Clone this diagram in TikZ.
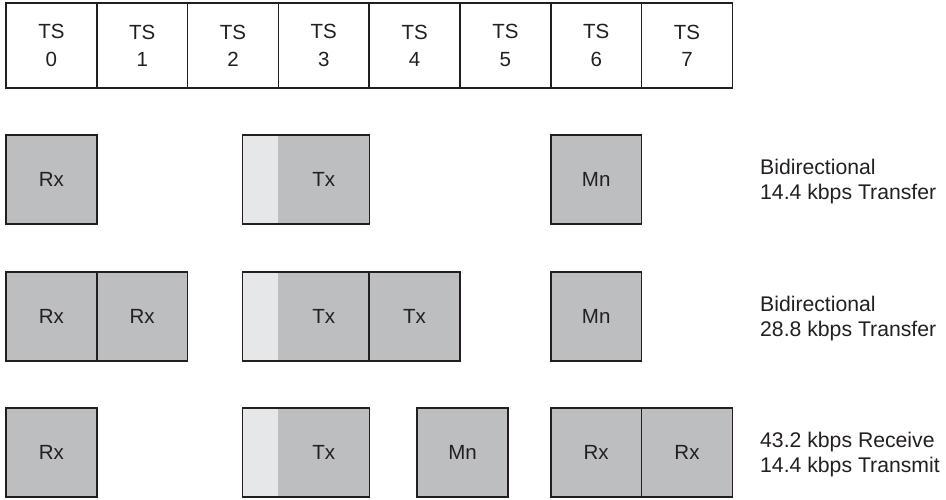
\documentclass[tikz,border=0pt]{standalone}
\usepackage{fontspec}
\setmainfont{Liberation Sans}
\definecolor{ink}{HTML}{231F20}
\definecolor{boxgray}{HTML}{BCBEC0}
\definecolor{padgray}{HTML}{E6E7E8}
\begin{document}
\begin{tikzpicture}[x=1pt,y=-1pt,
  tscell/.style={draw=ink, line width=1.6pt, fill=white, minimum width=90.8pt, minimum height=85pt, inner sep=0pt, align=center, text=ink, font=\fontsize{20.5}{27.2}\selectfont},
  slot/.style={draw=ink, line width=1.6pt, fill=boxgray, minimum width=90.8pt, minimum height=89pt, inner sep=0pt, text=ink, font=\fontsize{20.5}{22}\selectfont},
  txpart/.style={fill=boxgray, minimum width=90.8pt, minimum height=89pt, inner sep=0pt, text=ink, font=\fontsize{20.5}{22}\selectfont},
  pad/.style={fill=padgray, minimum width=36.5pt, minimum height=89pt, inner sep=0pt},
  frame/.style={draw=ink, line width=1.6pt},
  rate/.style={anchor=west, align=left, inner sep=0pt, text=ink, font=\fontsize{21.2}{25.8}\selectfont}]
\useasboundingbox (0,0) rectangle (946,499);
% time slots
\foreach \i in {0,...,7}
  \node[tscell] (ts\i) at ({51.4+90.8*\i},45.5) {TS\\\i};
% row 1
\node[slot] (r1rx) at (51.4,179.5) {Rx};
\node[pad] (r1pad) at (260.75,179.5) {};
\node[txpart] (r1tx) at (323.8,179.5) {Tx};
\draw[frame] (r1pad.north west) rectangle (r1tx.south east);
\node[slot] (r1mn) at (596.2,179.5) {Mn};
\node[rate] (r1lab) at (760,181.5) {Bidirectional\\14.4 kbps Transfer};
% row 2
\node[slot] (r2rxa) at (51.4,316.5) {Rx};
\node[slot] (r2rxb) at (142.2,316.5) {Rx};
\node[pad] (r2pad) at (260.75,316.5) {};
\node[txpart] (r2txa) at (323.8,316.5) {Tx};
\draw[frame] (r2pad.north west) rectangle (r2txa.south east);
\node[slot] (r2txb) at (414.6,316.5) {Tx};
\node[slot] (r2mn) at (596.2,316.5) {Mn};
\node[rate] (r2lab) at (760,318.5) {Bidirectional\\28.8 kbps Transfer};
% row 3
\node[slot] (r3rx) at (51.4,452.5) {Rx};
\node[pad] (r3pad) at (260.75,452.5) {};
\node[txpart] (r3tx) at (323.8,452.5) {Tx};
\draw[frame] (r3pad.north west) rectangle (r3tx.south east);
\node[slot] (r3mn) at (462.5,452.5) {Mn};
\node[slot] (r3rxa) at (596.2,452.5) {Rx};
\node[slot] (r3rxb) at (687,452.5) {Rx};
\node[rate] (r3lab) at (760,454.5) {43.2 kbps Receive\\14.4 kbps Transmit};
\end{tikzpicture}
\end{document}
